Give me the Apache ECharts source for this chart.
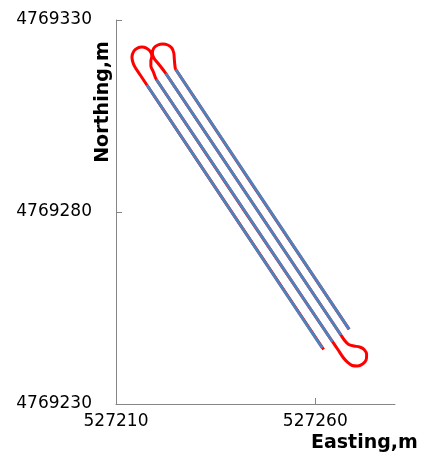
<!DOCTYPE html>
<html>
<head>
<meta charset="utf-8">
<script src="https://cdn.jsdelivr.net/npm/echarts@6/dist/echarts.min.js"></script>
<style>
html,body{margin:0;padding:0;background:#fff;}
#chart{width:425px;height:460px;}
</style>
</head>
<body>
<div id="chart"></div>
<script>
// Full GPS track (red), Easting / Northing in metres
const trackEasting = [
  527262.1, 527217.75, 527216.0, 527214.75, 527214.25, 527214.0, 527214.5, 527215.5,
  527216.5, 527217.5, 527218.5, 527219.0, 527218.75, 527218.75, 527219.38, 527220.13,
  527264.33, 527265.75, 527267.0, 527268.13, 527269.25, 527270.63, 527271.88, 527272.75,
  527272.88, 527272.25, 527271.13, 527269.75, 527268.38, 527267.38, 527266.43,
  527222.5, 527221.38, 527220.38, 527219.5, 527219.13, 527219.5, 527220.5, 527221.75,
  527223.0, 527224.0, 527224.5, 527224.63, 527224.75, 527225.0, 527268.5
];
const trackNorthing = [
  4769244.2, 4769313.07, 4769315.81, 4769317.76, 4769318.93, 4769320.36, 4769321.93, 4769322.76,
  4769322.97, 4769322.76, 4769321.93, 4769320.63, 4769319.32, 4769318.02, 4769316.46, 4769314.51,
  4769246.22, 4769244.06, 4769242.11, 4769240.81, 4769240.03, 4769239.90, 4769240.42, 4769241.46,
  4769242.89, 4769244.19, 4769244.84, 4769245.10, 4769245.49, 4769246.54, 4769247.97,
  4769316.07, 4769317.63, 4769318.93, 4769320.10, 4769321.41, 4769322.71, 4769323.49, 4769323.75,
  4769323.49, 4769322.71, 4769321.41, 4769319.84, 4769318.41, 4769317.11, 4769249.45
];
// Straight passes (blue): start / end
const passStartEasting  = [527217.75, 527220.13, 527222.5, 527225.0];
const passStartNorthing = [4769313.07, 4769314.51, 4769316.07, 4769317.11];
const passEndEasting    = [527261.75, 527264.33, 527266.43, 527268.5];
const passEndNorthing   = [4769244.58, 4769246.22, 4769247.97, 4769249.45];

const xTicks = [527210, 527260];
const yTicks = [4769230, 4769280, 4769330];

const trackData = trackEasting.map((e, i) => [e, trackNorthing[i]]);
const passSeries = passStartEasting.map((e, i) => ({
  type: 'line',
  data: [[e, passStartNorthing[i]], [passEndEasting[i], passEndNorthing[i]]],
  showSymbol: false,
  symbol: 'none',
  lineStyle: { color: '#4F81BD', width: 3 },
  z: 3,
  silent: true,
  animation: false
}));

const chart = echarts.init(document.getElementById('chart'), null, { renderer: 'canvas' });
const axisCol = '#868686';
chart.setOption({
  animation: false,
  backgroundColor: '#ffffff',
  grid: { left: 116, top: 20, right: 30, bottom: 56, containLabel: false },
  xAxis: {
    type: 'value',
    min: 527210, max: 527280, interval: 50,
    axisLine: { show: true, lineStyle: { color: axisCol, width: 1 } },
    axisTick: { show: true, inside: true, length: 6, lineStyle: { color: axisCol }, customValues: xTicks },
    axisLabel: { customValues: xTicks, color: '#000', fontFamily: 'DejaVu Sans', fontSize: 17, margin: 9,
                 formatter: v => String(v) },
    splitLine: { show: false }
  },
  yAxis: {
    type: 'value',
    min: 4769230, max: 4769330, interval: 50,
    axisLine: { show: true, lineStyle: { color: axisCol, width: 1 } },
    axisTick: { show: true, inside: true, length: 6, lineStyle: { color: axisCol }, customValues: yTicks },
    axisLabel: { customValues: yTicks, color: '#000', fontFamily: 'DejaVu Sans', fontSize: 17, margin: 24,
                 formatter: v => String(v) },
    splitLine: { show: false }
  },
  graphic: [
    { type: 'text', left: 311, top: 434,
      style: { text: 'Easting,m', font: 'bold 19px "DejaVu Sans"', fill: '#000' } },
    { type: 'text', x: 103, y: 102, rotation: Math.PI / 2,
      style: { text: 'Northing,m', font: 'bold 19px "DejaVu Sans"', fill: '#000',
               align: 'center', verticalAlign: 'middle' } }
  ],
  series: [
    {
      type: 'line',
      data: trackData,
      showSymbol: false,
      symbol: 'none',
      smooth: 0.3,
      lineStyle: { color: '#FF0000', width: 3 },
      z: 2,
      silent: true,
      animation: false
    }
  ].concat(passSeries)
});
</script>
</body>
</html>
